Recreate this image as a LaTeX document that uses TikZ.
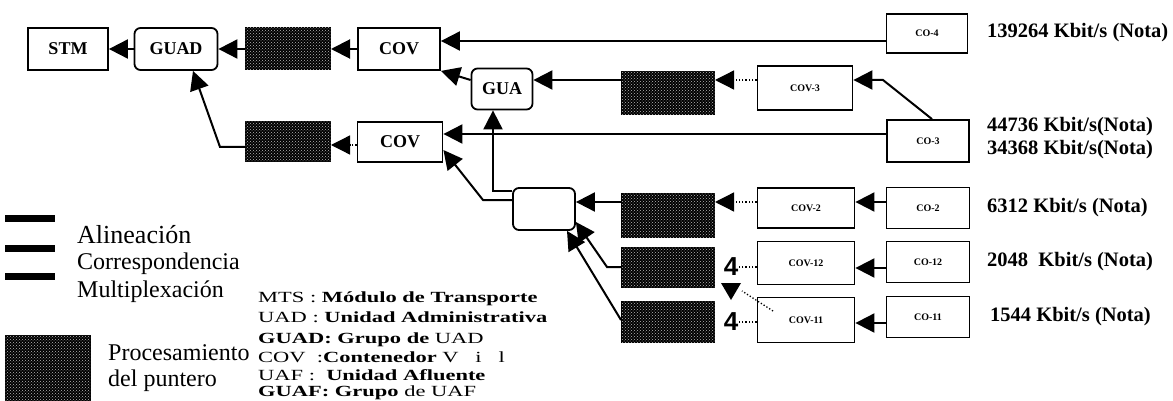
\documentclass[tikz,border=0pt]{standalone}
\usepackage{fontspec}
\setmainfont{Liberation Serif}
\newfontfamily\sansf{Liberation Sans}
\newfontfamily\widef[FakeStretch=1.45]{Liberation Serif}
\usetikzlibrary{arrows.meta,patterns}
\tikzset{
 box/.style={draw, line width=1.8pt, inner sep=0pt, font=\bfseries\fontsize{18}{18}\selectfont},
 sbox/.style={box, font=\bfseries\fontsize{10}{10}\selectfont},
 rbox/.style={box, rounded corners=6pt},
 proc/.style={draw, line width=1pt, inner sep=0pt, fill=black, postaction={pattern=crosshatch dots, pattern color=gray!55}},
 arr/.style={line width=2pt, -{Triangle[length=19pt,width=19pt]}},
 darr/.style={line width=1.3pt, dotted, -{Triangle[length=19pt,width=19pt]}},
 dline/.style={line width=1.3pt, dotted},
 rate/.style={anchor=west, inner sep=0pt, font=\bfseries\fontsize{20.5}{20.5}\selectfont},
 leg/.style={anchor=west, inner sep=0pt, font=\fontsize{24}{24}\selectfont},
 abbr/.style={anchor=west, inner sep=0pt, font=\widef\fontsize{15.5}{15.5}\selectfont},
 four/.style={inner sep=0pt, font=\sansf\bfseries\fontsize{26}{26}\selectfont},
 legbar/.style={line width=7pt},
}
\begin{document}
\begin{tikzpicture}[x=1pt,y=-1pt]
\useasboundingbox (0,0) rectangle (1173,401);
% top row
\node[box, minimum width=80pt, minimum height=42pt] (stm) at (68,49) {STM};
\node[rbox, minimum width=83pt, minimum height=42pt] (guad) at (176,49) {GUAD};
\node[proc, minimum width=85pt, minimum height=42pt] (p1) at (288,49) {};
\node[box, minimum width=82pt, minimum height=42pt] (covA) at (399,49) {COV};
\node[sbox, minimum width=81pt, minimum height=39pt] (co4) at (927,33.5) {CO-4};
% second row
\node[rbox, minimum width=61pt, minimum height=41pt] (gua) at (502,89) {GUA};
\node[proc, minimum width=93pt, minimum height=43pt] (p2) at (668,93) {};
\node[sbox, minimum width=95pt, minimum height=44pt] (cov3) at (805,88) {COV-3};
\node[sbox, minimum width=82pt, minimum height=42pt] (co3) at (928,141) {CO-3};
\node[box, minimum width=85pt, minimum height=40pt] (covB) at (400,142) {COV};
\node[proc, minimum width=85pt, minimum height=40pt] (p3) at (288,142) {};
% lower rows
\node[rbox, minimum width=62pt, minimum height=42pt] (blank) at (544,209) {};
\node[proc, minimum width=93pt, minimum height=44pt] (p4) at (668,215) {};
\node[sbox, minimum width=97pt, minimum height=40pt] (cov2) at (806,208) {COV-2};
\node[sbox, minimum width=83pt, minimum height=41pt] (co2) at (928,208) {CO-2};
\node[proc, minimum width=93pt, minimum height=40pt] (p5) at (668,267) {};
\node[four] (f1) at (731,267) {4};
\node[sbox, minimum width=97pt, minimum height=43pt] (cov12) at (806,263) {COV-12};
\node[sbox, minimum width=83pt, minimum height=41pt] (co12) at (928,262) {CO-12};
\node[proc, minimum width=93pt, minimum height=41pt] (p6) at (668,322) {};
\node[four] (f2) at (731,322) {4};
\node[sbox, minimum width=97pt, minimum height=45pt] (cov11) at (806,320) {COV-11};
\node[sbox, minimum width=83pt, minimum height=41pt] (co11) at (928,317) {CO-11};
% rates
\node[rate] (r1) at (987,33) {139264 Kbit/s (Nota)};
\node[rate] (r2) at (987,127) {44736 Kbit/s(Nota)};
\node[rate] (r3) at (987,150) {34368 Kbit/s(Nota)};
\node[rate] (r4) at (987,208) {6312 Kbit/s (Nota)};
\node[rate] (r5) at (987,262) {2048~ Kbit/s (Nota)};
\node[rate] (r6) at (990,317) {1544 Kbit/s (Nota)};
% coordinates
\coordinate (b3) at (883,80);
\coordinate (b1) at (220,147);
\coordinate (b2) at (483,200);
\coordinate (b5) at (607,267);
\coordinate (d1) at (773,311);
\coordinate (d2) at (742,291);
% connectors
\draw[arr] (guad) -- (stm);
\draw[arr] (p1) -- (guad);
\draw[arr] (covA) -- (p1);
\draw[arr] ([yshift=-7.5pt]co4.west) -- ([yshift=8pt]covA.east);
\draw[arr] ([yshift=9pt]gua.west) -- (covA.south east);
\draw[arr] ([yshift=13pt]p2.west) -- ([yshift=9pt]gua.east);
\draw[darr] ([yshift=8pt]cov3.west) -- ([yshift=13pt]p2.east);
\draw[arr] ([xshift=4pt]co3.north) -- (b3) -- ([yshift=8pt]cov3.east);
\draw[arr] ([yshift=7pt]co3.west) -- ([yshift=8pt]covB.east);
\draw[darr] ([yshift=-3pt]covB.west) -- ([yshift=-3pt]p3.east);
\draw[arr] ([yshift=-5pt]p3.west) -- (b1) -- ([xshift=17pt]guad.south);
\draw[arr] ([yshift=18pt]blank.west) -| ([xshift=-9pt]gua.south);
\draw[arr] ([yshift=9pt]blank.west) -- (b2) -- ([yshift=-8pt]covB.east);
\draw[arr] ([yshift=13pt]p4.west) -- ([yshift=7pt]blank.east);
\draw[darr] ([yshift=6pt]cov2.west) -- ([yshift=13pt]p4.east);
\draw[arr] ([yshift=6pt]co2.west) -- ([yshift=6pt]cov2.east);
\draw[arr] (p5.west) -- (b5) -- ([yshift=-13pt]blank.east);
\draw[arr] ([yshift=2pt]p6.west) -- ([xshift=23pt]blank.south);
\draw[arr] ([yshift=-6pt]co12.west) -- ([yshift=-5pt]cov12.east);
\draw[dline] ([yshift=-4pt]cov12.west) -- (f1.east);
\draw[arr] ([yshift=-6pt]co11.west) -- ([yshift=-3pt]cov11.east);
\draw[dline] ([yshift=-2pt]cov11.west) -- (f2.east);
\draw[dline] (d1) -- (d2);
\fill (721,283) -- (741,283) -- (731,300) -- cycle;
% legend
\draw[legbar] (5,218.5) -- (55,218.5);
\draw[legbar] (5,248.5) -- (55,248.5);
\draw[legbar] (5,276.5) -- (55,276.5);
\node[leg, font=\fontsize{26}{26}\selectfont] (l1) at (77,235) {Alineación};
\node[leg] (l2) at (77,264) {Correspondencia};
\node[leg] (l3) at (77,292) {Multiplexación};
\node[proc, minimum width=85pt, minimum height=66pt] (lp) at (47.5,368) {};
\node[leg, align=left, font=\fontsize{24}{26}\selectfont] (l4) at (108,368) {Procesamiento\\del puntero};
% abbreviations
\node[abbr] (a1) at (258,299) {MTS : \textbf{Módulo de Transporte}};
\node[abbr] (a2) at (258,317) {UAD : \textbf{Unidad Administrativa}};
\node[abbr] (a3) at (258,340) {\textbf{GUAD: Grupo de} UAD};
\node[abbr] (a4) at (258,357) {COV \ :\textbf{Contenedor} V \ \ i \ \ l};
\node[abbr] (a5) at (258,375) {UAF : \ \textbf{Unidad Afluente}};
\node[abbr] (a6) at (258,393) {\textbf{GUAF: Grupo} de UAF};
\end{tikzpicture}
\end{document}
